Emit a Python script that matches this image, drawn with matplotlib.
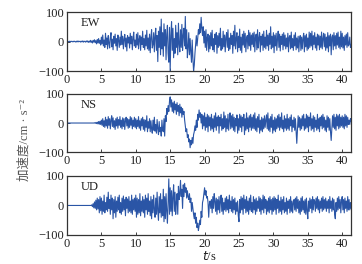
import numpy as np
import matplotlib
matplotlib.use("Agg")
import matplotlib.pyplot as plt

plt.rcParams['font.family'] = ['Liberation Serif', 'Noto Sans CJK SC', 'DejaVu Sans']

# acceleration records, cm/s^2, one value every 0.1 s,
# one row per second
dt = 0.1
ew = [
    0, 1, -1, 0, 1, -1, 1, 0, -1, 1,
    -1, 1, 0, -2, 1, -1, 2, -1, 0, 1,
    -2, 1, -1, 2, -2, 1, 0, -2, 2, -1,
    2, -3, 1, -2, 4, -3, 2, -5, 4, -2,
    6, -4, 3, -8, 7, -5, 10, -6, 4, -12,
    15, -8, 22, -15, 5, -20, 28, -10, 12, -25,
    20, -5, -22, 14, 30, -18, 8, -28, 18, -6,
    25, -15, 10, -30, 22, 5, -20, 15, -12, 35,
    -10, 18, -25, 8, 24, -18, 12, -32, 20, -5,
    15, -22, 28, -8, 18, -28, 10, 32, -15, 5,
    -20, 25, -12, 30, -25, 8, 20, -30, 15, -10,
    35, -20, 10, -28, 22, -15, 38, -25, 12, -30,
    25, -38, 15, 40, -22, -10, 30, -35, 18, 45,
    -30, 20, -68, 35, -20, 50, -45, 76, -25, 30,
    -50, 60, -15, 40, -62, 25, 55, -40, -70, 48,
    -100, 20, 67, -30, 45, -55, 10, -40, 55, -20,
    30, -45, 62, -10, -35, 40, -20, 58, -30, 20,
    45, -15, 85, -25, 40, -55, -20, 30, -45, 10,
    -35, -70, 5, -55, -100, -80, -40, -10, 20, -15,
    10, 40, 25, 60, 30, 82, 45, 20, 50, -5,
    35, -20, 40, -30, 15, 25, -35, 20, -25, 30,
    -15, 38, -28, 10, -35, 25, -10, 30, -40, 20,
    -20, 28, -15, 45, -30, 10, -25, 35, -18, 22,
    -35, 15, 30, -20, 40, -30, 12, -25, 28, -10,
    20, -40, 35, -15, 55, -25, 10, 30, -35, 18,
    -20, 42, -30, 15, -38, 25, -12, 35, -20, 28,
    -35, 10, 20, -25, 38, -15, 30, -30, 22, -10,
    28, -18, 32, -35, 15, 25, -28, 40, -22, 12,
    30, -35, 18, -12, 25, -30, 35, -20, 15, -25,
    38, -15, 22, -30, 28, -10, 50, -25, 18, -20,
    30, -38, 22, -15, 28, -30, 10, 35, -20, 25,
    -32, 18, -10, 25, -28, 30, -15, 22, -25, 12,
    -18, 28, -35, 15, 20, -25, 32, -20, 10, -30,
    22, -15, 30, -28, 12, -22, 18, -35, 8, 20,
    -30, 15, -25, 10, 28, -35, 20, -18, 25, -30,
    12, -25, 32, -20, 28, -15, 35, -28, 20, -10,
    30, -22, 15, -30, 25, -12, 22, -28, 18, -20,
    32, -25, 10, 28, -18, 25, -30, 15, -22, 30,
    -35, 20, -15, 25, -45, 15, 22, -28, 30, -15,
    20, -25, 28, -12, 32, -20, 15, -25, 35, -18,
    28, -22, 15, -30, 20, -12, 25, -20, 30, -15,
    -10, 15, -20, -10,
]
ns = [
    0, 0, 0, 0, 0, 0, 0, 0, 0, 0,
    0, 0, 0, 0, 0, 0, 0, 0, 0, 0,
    0, 0, 0, 0, 0, 0, 0, 0, 0, 0,
    0, 0, 0, 0, 0, 0, 0, 0, 0, 0,
    1, -1, 2, -2, 3, -3, 5, -4, 6, -5,
    10, -8, 15, -12, 8, -15, 20, -10, 12, -18,
    22, -8, 15, -20, 10, 25, -12, 18, -15, 8,
    -22, 15, -10, 20, -18, 12, -8, 22, -15, 10,
    -20, 18, -12, 15, -22, 8, 20, -10, 15, -18,
    12, -15, 22, -8, 18, -20, 10, -12, 20, -15,
    15, -20, 10, -12, 22, -18, 8, -25, 15, -10,
    20, -22, 12, -28, 10, -15, 25, -30, 5, -18,
    15, -30, 8, -20, -35, 10, -25, 20, -28, -5,
    -35, 12, -20, -40, 5, -30, -15, -45, 10, -25,
    -30, 15, -45, 25, 5, 50, 30, 60, 40, 75,
    90, 55, 80, 40, 70, 35, 75, 45, 65, 30,
    70, 40, 60, 25, 65, 35, 55, 20, 50, 30,
    40, 10, -10, -30, -20, -50, -40, -65, -55, -85,
    -60, -75, -50, -70, -40, -30, -10, -25, 10, -15,
    30, 10, 45, 20, 35, 0, 30, -20, 25, -10,
    35, -25, 20, -15, 30, -30, 25, -10, 20, -25,
    30, -20, 15, -30, 25, -15, 35, -25, 20, -10,
    25, -35, 20, -10, 30, -25, 15, -20, 38, -15,
    25, -30, 15, -20, 30, -25, 10, 35, -20, 25,
    -15, 30, -25, 20, -30, 15, -10, 28, -35, 15,
    -25, 30, -15, 25, -30, 20, -10, 30, -40, 15,
    -25, 35, -20, 18, -30, 25, -15, 30, -25, 20,
    -18, 28, -20, 35, -25, 15, -30, 22, -15, 30,
    -35, 10, -25, 20, -30, 15, -20, 25, -15, 10,
    28, -20, 35, -25, 15, -30, 22, -15, 30, -35,
    10, -25, 20, -30, 15, -20, 25, -15, 30, -25,
    20, -15, 35, -20, 10, -30, 25, -18, 15, -25,
    30, -20, 15, -25, 20, -10, 28, -30, 10, -15,
    20, -25, 15, -30, -70, -20, 25, -15, 20, -25,
    15, -20, 25, -10, 30, -25, 15, -20, 30, -15,
    25, -30, 20, -10, 35, -25, 15, -20, 25, -30,
    20, -15, 10, -25, 30, -20, 15, -30, 20, -10,
    25, -20, 30, -15, 20, -25, 10, -30, 25, -15,
    20, -25, 15, -30, -60, -20, 25, -15, 30, -20,
    20, -25, 30, -10, 25, -20, 30, -15, 20, -10,
    25, -15, 20, -20, 30, -10, 25, -15, 20, -5,
    10, -5, 15, 5,
]
ud = [
    0, 0, 0, 0, 0, 0, 0, 0, 0, 0,
    0, 0, 0, 0, 0, 0, 0, 0, 0, 0,
    0, 0, 0, 0, 0, 0, 0, 0, 0, 0,
    0, 0, 0, 0, 0, 0, 2, -4, 6, -8,
    12, -10, 18, -15, 25, -12, 20, -25, 30, -18,
    25, -30, 15, -20, 35, -25, 10, -15, 28, -20,
    45, -10, 20, -30, 35, -15, 25, -45, 20, -25,
    30, -40, 15, -20, 28, -15, 35, -25, 10, -30,
    25, -20, 32, -15, 20, -35, 28, -10, 22, -25,
    30, -20, 15, -25, 35, -30, 20, -15, 25, -20,
    35, -40, 25, -30, 20, -25, 40, -35, 15, -20,
    30, -25, 20, -40, 35, -15, 25, -30, 40, -20,
    15, -35, 30, -45, 20, -25, 35, -15, -40, 25,
    -30, 45, -20, -50, 30, -25, 40, -40, 20, -35,
    55, -55, 30, -45, 40, -20, -60, 20, 90, -30,
    60, -20, 50, -35, 30, 70, -20, 45, -30, 10,
    40, -30, 65, 20, 40, 85, 30, 55, -10, 70,
    30, 75, 45, 60, 25, 50, 30, 20, 40, 10,
    25, -20, 10, -10, -30, -45, -25, -60, -40, -75,
    -60, -85, -70, -50, -65, -20, -40, 10, 20, 40,
    60, 35, 50, 25, 30, 10, -40, 5, 15, -10,
    20, -25, 30, -10, 40, 15, -20, 25, -30, 20,
    -15, 30, -25, 15, 35, -20, 25, -30, 10, -15,
    25, -20, 30, -15, 20, -25, 35, -10, 15, -20,
    30, -25, 20, -15, 25, -30, 10, -20, 15, -35,
    -55, 20, -25, 30, -15, 25, -30, 35, -10, 20,
    -25, 30, -20, 15, -30, 25, -15, 35, -20, 10,
    -25, 30, -15, 20, -30, 25, -20, 15, -10, 30,
    -20, 25, -30, 20, -15, 35, -25, 30, -10, 20,
    -30, 15, -20, 25, -25, 30, -15, 20, -30, 25,
    -20, 30, -15, 25, -30, 20, -10, 35, -25, 15,
    -20, 28, -30, 20, -15, 30, -25, 10, -20, 25,
    -30, 15, -10, 20, -25, 30, -20, 15, -25, 10,
    20, -15, 25, -20, 30, -10, 20, -25, 15, -30,
    25, -20, 30, -15, 15, -25, 20, -30, 25, -20,
    -45, 15, -20, 25, -10, 20, -25, 30, -15, 20,
    15, -20, 25, -10, 30, -15, 20, -25, 15, -10,
    25, -20, 30, -15, 20, -10, 25, -20, 15, -10,
    20, -25, 30, -10, 15, -20, 25, -15, 20, -30,
    -45, 10, -20, 25, -15, 30, -10, 20, -25, 15,
    30, -15, 20, -25, 25, -10, 15, -20, 30, -15,
    20, -15, 10, -10,
]
components = ['EW', 'NS', 'UD']
records = [ew, ns, ud]
xticks = [0, 5, 10, 15, 20, 25, 30, 35, 40]
yticks = [-100, 0, 100]

line_color = '#2a55a6'
fig = plt.figure(figsize=(3.62, 2.64), dpi=100)
boxes = [(0.185, 0.731, 0.785, 0.2235),
         (0.185, 0.424, 0.785, 0.2200),
         (0.185, 0.110, 0.785, 0.2235)]

axes = []
for box, name, rec in zip(boxes, components, records):
    ax = fig.add_axes(box)
    t = np.arange(len(rec)) * dt
    ax.plot(t, rec, color=line_color, lw=0.8)
    ax.set_xlim(0, 41.3)
    ax.set_ylim(-100, 100)
    ax.set_xticks(xticks)
    ax.set_yticks(yticks)
    ax.tick_params(direction='in', length=2.5, width=0.6, labelsize=9, pad=2,
                   colors='#222222')
    for s in ax.spines.values():
        s.set_linewidth(0.9)
        s.set_color('#333333')
    ax.text(2.0, 62, name, fontsize=9, color='#222222', va='center', ha='left')
    axes.append(ax)

axes[2].set_xlabel('$t$/s', fontsize=9, labelpad=0, color='#222222')
fig.text(0.068, 0.47, '加速度/cm · s⁻²', rotation=90, fontsize=9,
         color='#555555', ha='center', va='center')

fig.savefig('out.png', dpi=100)
